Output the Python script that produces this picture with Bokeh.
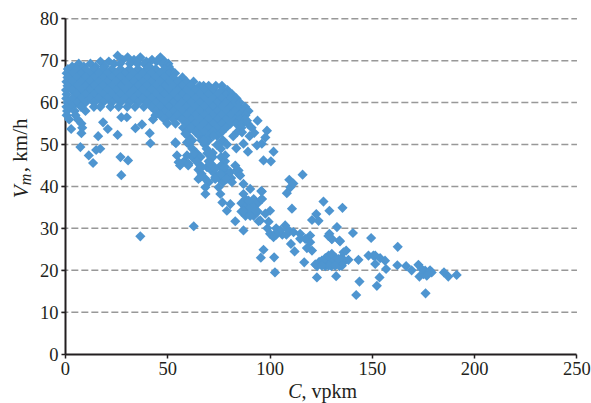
from math import pi
from bokeh.plotting import figure
from bokeh.embed import file_html
from bokeh.resources import INLINE
from bokeh.models import FixedTicker, Label

x_ticks = [0, 50, 100, 150, 200, 250]
y_ticks = [0, 10, 20, 30, 40, 50, 60, 70, 80]

# dense free-flow band, read row by row: (speed, [densities])
band_rows = [
    (71.2, [25.5]),
    (70.8, [30.4, 36.6, 46.4]),
    (70.2, [28.0, 33.5, 42.3]),
    (69.8, [17.1, 21.2, 39.5, 44.5, 48.5]),
    (69.3, [6.5, 12.2, 23.8, 26.7, 31.5, 35.2, 38.5, 47.5, 50.3]),
    (68.6, [3.3, 9.0, 14.7, 19.0, 41.0, 50.5]),
    (68.0, [1.2, 5.5, 9.8, 14.1, 18.3, 22.6, 26.9, 31.2, 35.5, 39.8, 44.1, 48.4, 51.2]),
    (67.0, [0.6, 3.3, 7.6, 11.9, 16.2, 20.5, 24.8, 29.1, 33.4, 37.7, 42.0, 46.3, 50.6, 53.6]),
    (66.0, [1.0, 5.5, 9.8, 14.0, 18.3, 22.6, 26.9, 31.2, 35.5, 39.8, 44.1, 48.4, 52.7, 57.2]),
    (65.0, [0.5, 3.3, 7.6, 11.9, 16.2, 20.5, 24.8, 29.1, 33.4, 37.7, 42.0, 46.3, 50.6, 54.9, 59.2, 62.6]),
    (64.0, [1.0, 5.5, 9.8, 14.0, 18.3, 22.6, 26.9, 31.2, 35.5, 39.8, 44.1, 48.4, 52.7, 57.0, 61.3, 65.6, 67.5, 70.0, 73.5, 76.5]),
    (63.0, [0.3, 3.3, 7.6, 11.9, 16.2, 20.5, 24.8, 29.1, 33.4, 37.7, 42.0, 46.3, 50.6, 54.9, 59.2, 63.5, 67.8, 72.1, 76.4, 79.2]),
    (62.0, [0.6, 5.5, 9.8, 14.0, 18.3, 22.6, 26.9, 31.2, 35.5, 39.8, 44.1, 48.4, 52.7, 57.0, 61.3, 65.6, 69.9, 74.2, 78.5, 81.5]),
    (61.0, [0.4, 3.3, 7.6, 11.9, 16.2, 20.5, 24.8, 29.1, 33.4, 37.7, 42.0, 46.3, 50.6, 54.9, 59.2, 63.5, 67.8, 72.1, 76.4, 80.7, 83.6]),
    (60.0, [1.0, 5.5, 9.8, 14.0, 18.3, 22.6, 26.9, 31.2, 35.5, 39.8, 44.1, 48.4, 52.7, 57.0, 61.3, 65.6, 69.9, 74.2, 78.5, 82.8, 85.2]),
    (59.0, [0.5, 3.3, 7.6, 13.9, 17.0, 22.0, 26.0, 30.2, 34.0, 38.3, 42.0, 46.3, 50.6, 54.9, 59.2, 63.5, 67.8, 72.1, 76.4, 80.7, 85.0, 87.8]),
    (58.0, [0.8, 4.5, 9.8, 44.1, 48.4, 52.7, 57.0, 61.3, 65.6, 69.9, 74.2, 78.5, 82.8, 87.1, 89.5]),
    (57.0, [0.6, 4.9, 44.0, 46.3, 50.6, 54.9, 59.2, 63.5, 67.8, 72.1, 76.4, 80.7, 85.0, 88.0]),
    (56.0, [1.8, 6.0, 48.4, 52.7, 57.0, 61.3, 65.6, 69.9, 74.2, 78.5, 82.8, 85.5, 87.8]),
    (55.0, [7.8, 49.8, 53.8, 59.2, 63.5, 67.8, 72.1, 76.4, 80.7, 83.5, 86.5, 89.0]),
    (54.0, [8.2, 57.5, 61.3, 65.6, 69.9, 74.2, 78.5, 86.0, 91.0]),
    (53.0, [59.2, 63.5, 67.8, 72.1, 76.4, 84.0]),
    (52.0, [60.0, 65.6, 69.9, 74.2, 82.0, 90.0]),
    (51.0, [62.0, 66.5, 70.0, 77.0]),
    (50.0, [60.5, 68.0, 75.0, 79.0]),
    (49.0, [62.0, 69.0, 76.0]),
    (48.0, [64.0, 72.0]),
    (47.0, [62.0, 66.0, 72.0, 76.0]),
    (46.0, [58.0, 64.0, 70.0, 78.0]),
    (45.0, [56.0, 60.0, 66.0, 72.0, 76.0, 83.0]),
    (44.0, [65.0, 71.0, 77.5, 84.0]),
    (43.0, [66.5, 73.0, 79.0]),
    (42.0, [68.0, 75.0, 81.0]),
    (41.0, [70.0, 77.0]),
    (37.0, [88.0, 92.0]),
    (36.0, [86.0, 90.0, 94.0]),
    (35.0, [88.0, 92.0]),
    (34.0, [86.0, 90.0, 94.0]),
    (33.0, [88.0, 92.0]),
    (30.0, [98.7, 103.0]),
    (28.5, [106.0, 108.0, 103.0]),
    (23.0, [129.0, 132.0, 135.0]),
    (22.0, [124.0, 127.0, 130.0, 133.0, 136.0]),
    (21.0, [123.0, 127.0, 130.0, 134.0]),
]

# scattered diamonds, read one by one
upper_c = [2.8, 7.8, 7.3, 11.4, 13.5, 15.0, 17.0, 16.0, 18.4, 20.7, 25.5, 27.3, 30.0, 26.9, 30.6, 27.3,
           34.2, 37.4, 41.2, 41.5, 42.8, 54.0, 54.5, 55.3, 60.2, 59.4, 58.6, 59.4, 63.5, 66.0, 65.0,
           61.0, 67.5, 74.0, 78.1, 69.3, 69.2, 75.7, 66.7, 84.6, 80.6, 73.2, 65.9, 77.3, 72.4,
           93.9, 88.7, 98.5, 97.7, 92.3, 86.3, 101.7, 96.8, 100.4, 89.2, 83.5, 93.6, 96.0, 87.0, 53.7, 62.8, 70.8]
upper_v = [53.7, 52.7, 49.4, 47.4, 45.6, 48.7, 49.0, 52.0, 55.3, 53.7, 52.3, 56.5, 56.5, 47.0, 46.2, 42.7,
           53.9, 54.8, 52.7, 50.3, 56.0, 50.3, 47.4, 45.8, 45.4, 47.4, 52.6, 50.5, 47.9, 44.6, 41.8,
           51.0, 51.0, 49.9, 47.4, 47.9, 44.6, 44.6, 44.6, 43.0, 43.4, 42.2, 42.2, 42.2, 52.1,
           55.7, 55.7, 53.3, 51.7, 52.8, 52.9, 48.3, 46.2, 46.0, 48.3, 49.1, 49.8, 50.2, 50.2, 50.5, 47.8, 47.8]

middle_c = [70.8, 73.2, 75.7, 78.1, 78.9, 73.2, 81.4, 84.6, 85.4, 68.4, 68.4, 74.9, 75.7, 76.7, 80.6, 78.9,
            87.0, 90.3, 87.0, 95.7, 96.0, 89.5, 89.5, 87.0, 92.8, 90.3, 83.0, 87.0, 94.4, 100.0, 97.7, 99.3,
            62.7, 36.6, 115.9, 109.4, 109.9, 108.2, 111.4, 96.0, 96.0, 126.1, 129.0, 135.4, 110.7, 95.2,
            122.6, 120.5, 123.7, 132.7, 129.0, 140.5, 149.4, 133.9, 130.2]
middle_v = [45.4, 44.2, 43.0, 44.6, 41.8, 41.8, 41.0, 43.8, 42.6, 39.8, 38.2, 39.8, 38.2, 36.2, 35.8, 34.2,
            40.6, 39.4, 38.2, 38.9, 37.0, 36.6, 34.7, 34.2, 34.2, 33.0, 31.7, 29.5, 31.7, 34.2, 33.5, 31.6,
            30.5, 28.1, 42.8, 41.6, 39.8, 38.4, 40.7, 38.8, 37.0, 36.4, 34.2, 34.9, 34.7, 31.9,
            33.4, 32.0, 31.8, 30.3, 28.7, 28.9, 27.7, 27.1, 27.5]

lower_c = [107.4, 105.0, 109.0, 102.5, 100.0, 101.7, 111.5, 110.2, 112.0, 114.7, 114.7, 119.6, 117.2, 119.6, 118.0, 120.5,
           96.8, 95.5, 102.0, 102.4, 116.7, 122.9, 132.3, 143.7, 142.1, 152.2, 153.5, 122.1, 125.3, 127.0, 128.6, 130.2,
           131.8, 133.5, 135.9, 137.2, 138.3, 135.1, 128.6, 125.3, 131.8, 143.2, 148.1, 151.4, 153.8, 151.4, 156.2, 156.7,
           128.5, 130.2, 134.2, 162.4, 150.5, 162.2, 166.5, 169.2, 172.5, 173.0, 175.8, 178.2, 175.0, 179.0, 176.6, 174.1,
           176.0, 185.0, 187.1, 191.2]
lower_v = [30.7, 29.5, 29.6, 28.7, 28.7, 27.9, 29.1, 26.3, 24.5, 28.7, 27.5, 28.3, 27.5, 26.7, 25.3, 24.7,
           24.9, 23.0, 23.1, 19.5, 21.9, 18.3, 18.6, 17.3, 14.1, 16.3, 18.3, 21.4, 22.3, 22.9, 23.5, 23.9,
           22.3, 22.7, 24.3, 24.7, 22.5, 21.1, 21.1, 21.1, 21.1, 22.5, 23.5, 23.5, 22.9, 21.5, 22.3, 20.3,
           28.2, 27.4, 26.9, 25.6, 23.5, 21.2, 21.0, 20.0, 21.3, 18.5, 19.9, 20.0, 19.1, 19.5, 18.7, 20.3,
           14.5, 19.5, 18.5, 18.9]

C = [c for v, cs in band_rows for c in cs] + upper_c + middle_c + lower_c
V = [v for v, cs in band_rows for c in cs] + upper_v + middle_v + lower_v

INK = "#231f20"
BLUE = "#4e95d0"
FONT = "Liberation Serif"

# the frame fills the canvas, so marks may run over the axis as they do in the reference
p = figure(width=591, height=403, output_backend="svg", toolbar_location=None,
           x_range=(-31.74, 257.1), y_range=(-11.78, 84.36),
           min_border_left=0, min_border_right=0, min_border_top=0, min_border_bottom=0)
p.outline_line_color = None
p.background_fill_color = "white"
p.grid.visible = False

p.segment(x0=[-2.0] * len(y_ticks[1:]), y0=y_ticks[1:], x1=[x_ticks[-1]] * len(y_ticks[1:]), y1=y_ticks[1:],
          line_color="#989898", line_width=1.5, line_dash="7 3", level="underlay")

p.xaxis.ticker = FixedTicker(ticks=x_ticks)
p.yaxis.ticker = FixedTicker(ticks=y_ticks)
p.xaxis.fixed_location = 0
p.yaxis.fixed_location = 0
p.xaxis.bounds = (0, 250)
p.yaxis.bounds = (0, 80)
for ax in (p.xaxis[0], p.yaxis[0]):
    ax.axis_line_color = INK
    ax.axis_line_width = 2
    ax.major_tick_line_color = INK
    ax.major_tick_line_width = 1.5
    ax.major_tick_in = 0
    ax.major_tick_out = 4
    ax.minor_tick_line_color = None
    ax.major_label_text_font = FONT
    ax.major_label_text_font_size = "18.5px"
    ax.major_label_text_color = INK
p.yaxis.major_label_standoff = 3
p.xaxis.major_label_standoff = 4

p.scatter(C, V, marker="square", angle=pi / 4, size=7.2, fill_color=BLUE, line_color=None, level="overlay")

def note(x, y, text, style="normal", size="21px", angle=0.0):
    p.add_layout(Label(x=x, y=y, text=text, text_font=FONT, text_font_style=style, text_font_size=size,
                       text_color=INK, angle=angle, text_baseline="alphabetic", text_align="left"))

note(108.9, -8.7, "C", "italic", "20px")
note(115.4, -8.7, ", vpkm", size="20px")
note(-21.5, 37.2, "V", "italic", angle=pi / 2)
note(-19.5, 40.3, "m", "italic", "16px", pi / 2)
note(-22, 43.4, ", km/h", angle=pi / 2)

open("out.html", "w").write(file_html(p, INLINE))
